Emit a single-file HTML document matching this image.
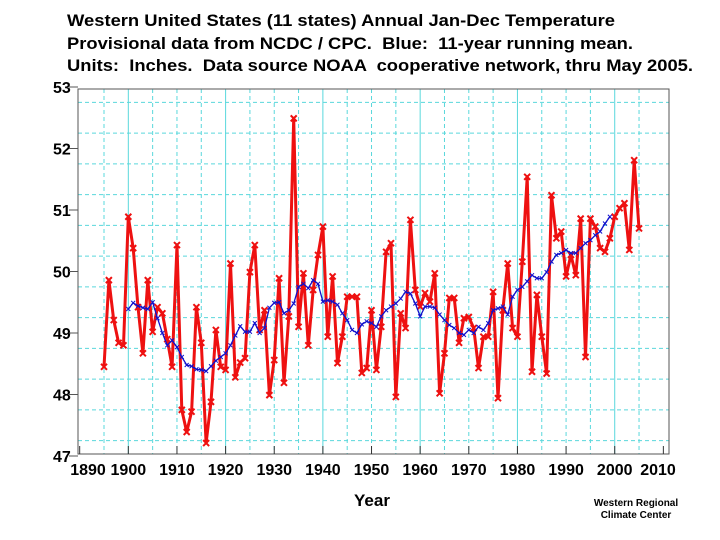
<!DOCTYPE html>
<html><head><meta charset="utf-8"><style>
html,body{margin:0;padding:0;background:#fff;}
svg{display:block;font-family:"Liberation Sans",Arial,sans-serif;}
.pre{white-space:pre;}
</style></head><body>
<svg id="chart" width="720" height="540">
<g font-weight="bold" font-size="17" fill="#000">
<text class="pre" x="67" y="26" textLength="548" lengthAdjust="spacingAndGlyphs">Western United States (11 states) Annual Jan-Dec Temperature</text>
<text class="pre" x="67" y="49" textLength="566" lengthAdjust="spacingAndGlyphs">Provisional data from NCDC / CPC.  Blue:  11-year running mean.</text>
<text class="pre" x="67" y="71" textLength="626" lengthAdjust="spacingAndGlyphs">Units:  Inches.  Data source NOAA  cooperative network, thru May 2005.</text>
</g>
<g id="grid"></g>
<rect x="78" y="89" width="591" height="365" fill="none" stroke="#555" stroke-width="1"/>
<g id="yticks"></g>
<g id="xticks"></g>
<g id="series"></g>
<text x="372" y="506" text-anchor="middle" font-weight="bold" font-size="17">Year</text>
<text x="636" y="506" text-anchor="middle" font-weight="bold" font-size="10">Western Regional</text>
<text x="636" y="518" text-anchor="middle" font-weight="bold" font-size="10">Climate Center</text>
</svg>
<script>
const firstYear = 1895;
const annualTemps = [48.45,49.86,49.21,48.84,48.80,50.89,50.38,49.42,48.67,49.86,49.02,49.42,49.32,48.9,48.45,50.43,47.75,47.39,47.72,49.42,48.84,47.21,47.88,49.05,48.45,48.40,50.13,48.28,48.52,48.59,49.99,50.43,49.05,49.37,47.99,48.56,49.89,48.19,49.27,52.49,49.10,49.97,48.80,49.70,50.27,50.73,48.94,49.92,48.51,48.94,49.59,49.59,49.59,48.35,48.43,49.37,48.40,49.10,50.32,50.46,47.96,49.32,49.08,50.84,49.70,49.43,49.65,49.51,49.97,48.02,48.67,49.57,49.57,48.84,49.24,49.26,49.08,48.43,48.94,48.94,49.67,47.94,49.37,50.13,49.08,48.94,50.16,51.54,48.37,49.62,48.94,48.34,51.24,50.54,50.65,49.92,50.27,49.94,50.86,48.61,50.86,50.73,50.38,50.32,50.54,50.89,51.03,51.11,50.35,51.81,50.70];
const meanFirstYear = 1900;
const runningMean = [49.39,49.49,49.44,49.41,49.39,49.50,49.24,49.0,48.80,48.88,48.77,48.61,48.48,48.46,48.41,48.40,48.38,48.46,48.55,48.61,48.67,48.80,48.96,49.11,49.02,49.02,49.16,49.0,49.08,49.41,49.49,49.50,49.32,49.37,49.48,49.75,49.80,49.73,49.86,49.80,49.51,49.53,49.51,49.46,49.32,49.21,49.05,49.00,49.14,49.19,49.16,49.10,49.27,49.37,49.43,49.48,49.56,49.67,49.64,49.48,49.27,49.43,49.43,49.41,49.30,49.21,49.13,49.08,49.0,48.97,49.05,49.0,49.10,49.05,49.16,49.37,49.40,49.43,49.30,49.59,49.70,49.75,49.84,49.94,49.89,49.89,49.99,50.16,50.27,50.30,50.35,50.30,50.30,50.38,50.46,50.51,50.59,50.65,50.78,50.89];
const yTickValues = [47,48,49,50,51,52,53];
const xTickYears = [1890,1900,1910,1920,1930,1940,1950,1960,1970,1980,1990,2000,2010];

const NS = "http://www.w3.org/2000/svg";
function xs(yr){ return 104 + (yr - 1895) * 4.864; }
function ys(v){ return 87 + (53 - v) * 61.5; }
function mk(tag, attrs, parent){ const e = document.createElementNS(NS, tag); for (const k in attrs) e.setAttribute(k, attrs[k]); parent.appendChild(e); return e; }

const grid = document.getElementById('grid');
for (let yr = 1895; yr <= 2005; yr += 5) {
  const solid = yr % 20 === 0;
  const l = mk('line', {x1: xs(yr), x2: xs(yr), y1: 89, y2: 454, stroke: '#5ad8dc', 'stroke-width': 1, 'stroke-dasharray': solid ? 'none' : '4,3'}, grid);
  
  
}
for (let v = 47.25; v < 53; v += 0.5) {
  const l = mk('line', {x1: 78, x2: 669, y1: ys(v), y2: ys(v), stroke: '#5ad8dc', 'stroke-width': 1, 'stroke-dasharray': '4,3'}, grid);
  
  
}
const yt = document.getElementById('yticks');
yTickValues.forEach(v => {
  const t = mk('text', {x: 53, y: ys(v) + 6, 'font-size': 16, 'font-weight': 'bold'}, yt);
  t.textContent = v;
  
  
  const l = mk('line', {x1: 69, x2: 78, y1: ys(v), y2: ys(v), stroke: '#555'}, yt);
  
  
});
const xt = document.getElementById('xticks');
xTickYears.forEach(yr => {
  let cx = Math.min(Math.max(xs(yr), 88), 658);
  const t = mk('text', {x: cx, y: 475, 'font-size': 16, 'font-weight': 'bold', 'text-anchor': 'middle'}, xt);
  t.textContent = yr;
  
  
  const l = mk('line', {x1: xs(yr), x2: xs(yr), y1: 446, y2: 454, stroke: '#333'}, xt);
  
  
});

const ser = document.getElementById('series');
const redPts = annualTemps.map((v,i) => xs(firstYear+i).toFixed(1)+','+ys(v).toFixed(1)).join(' ');
const red = mk('polyline', {points: redPts, fill: 'none', stroke: '#ee1111', 'stroke-width': 3, 'stroke-linejoin': 'round'}, ser);


annualTemps.forEach((v,i) => {
  const x = xs(firstYear+i), y = ys(v);
  const m = mk('path', {d: `M${x-3},${y-3}L${x+3},${y+3}M${x-3},${y+3}L${x+3},${y-3}`, stroke: '#ee1111', 'stroke-width': 2}, ser);
  
  
});
const bluePts = runningMean.map((v,i) => xs(meanFirstYear+i).toFixed(1)+','+ys(v).toFixed(1)).join(' ');
const blue = mk('polyline', {points: bluePts, fill: 'none', stroke: '#1010cc', 'stroke-width': 1.3}, ser);


runningMean.forEach((v,i) => {
  const x = xs(meanFirstYear+i), y = ys(v);
  const m = mk('path', {d: `M${x-2},${y-2}L${x+2},${y+2}M${x-2},${y+2}L${x+2},${y-2}`, stroke: '#1010cc', 'stroke-width': 1}, ser);
  
  
});
</script>
</body></html>
